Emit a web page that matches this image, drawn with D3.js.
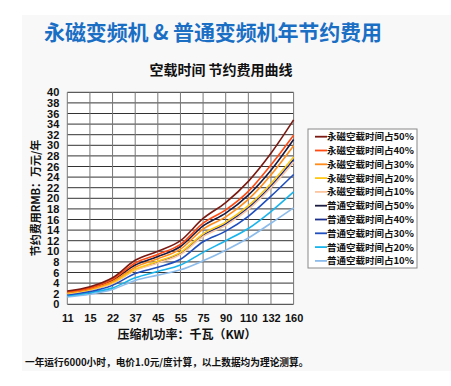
<!DOCTYPE html>
<html><head><meta charset="utf-8">
<script src="https://cdn.jsdelivr.net/npm/d3@7"></script>
<style>html,body{margin:0;padding:0;background:#fff;}svg{display:block;font-family:"Liberation Sans",Arial,"Noto Sans CJK SC",sans-serif;}</style>
</head><body>
<svg id="c" width="451" height="386"></svg>
<script>
const categories = ["11","15","22","37","45","55","75","90","110","132","160"];
const yTicks = d3.range(0, 41, 2);
const seriesNames = ["永磁空载时间占50%","永磁空载时间占40%","永磁空载时间占30%","永磁空载时间占20%","永磁空载时间占10%",
                     "普通空载时间占50%","普通空载时间占40%","普通空载时间占30%","普通空载时间占20%","普通空载时间占10%"];
const pm50 = [2.5, 3.3, 5.0, 8.3, 10.0, 12.0, 16.2, 19.2, 23.2, 28.5, 34.8];
const pm40 = [2.4, 3.1, 4.7, 7.8, 9.4, 11.3, 15.3, 17.8, 21.3, 26.3, 31.9];
const pm30 = [2.2, 2.9, 4.3, 7.0, 8.6, 10.4, 14.2, 16.5, 19.8, 24.4, 29.9];
const pm20 = [2.1, 2.8, 4.1, 6.6, 8.1, 9.8, 13.3, 15.5, 18.6, 22.8, 27.8];
const pm10 = [2.0, 2.7, 3.9, 6.4, 7.8, 9.4, 12.8, 14.9, 17.9, 22.0, 26.8];
const pt50 = [2.3, 3.0, 4.5, 7.4, 9.0, 10.9, 14.8, 17.2, 20.6, 25.3, 31.1];
const pt40 = [2.0, 2.7, 4.0, 6.5, 7.9, 9.6, 13.0, 15.2, 18.2, 22.3, 27.3];
const pt30 = [1.8, 2.4, 3.6, 5.8, 7.0, 8.5, 11.8, 13.8, 16.6, 20.4, 24.5];
const pt20 = [1.6, 2.2, 3.1, 5.0, 6.2, 7.4, 9.8, 12.0, 14.3, 17.5, 21.2];
const pt10 = [1.4, 1.9, 2.8, 4.5, 5.5, 6.5, 8.2, 10.2, 12.5, 15.3, 18.2];
const seriesValues = [pm50, pm40, pm30, pm20, pm10, pt50, pt40, pt30, pt20, pt10];
const colors = ["#7a1a12","#ff4a12","#ff8c1a","#ffc814","#fcc6a0","#1a1a40","#1c2e8c","#1f4fbf","#19b4ec","#8cbcec"];

const svg = d3.select("#c");
svg.append("rect").attr("x",22).attr("y",15).attr("width",429).attr("height",356).attr("fill","#f8f8f8");

svg.append("text").attr("x",44).attr("y",40).attr("fill","#1a6fc4").attr("font-size",21).attr("font-weight","bold")
  .attr("font-family","'Noto Sans CJK SC',sans-serif").attr("textLength",338).attr("lengthAdjust","spacing")
  .text("永磁变频机 & 普通变频机年节约费用");
svg.append("text").attr("x",221).attr("y",75).attr("text-anchor","middle").attr("font-size",14).attr("font-weight","bold")
  .attr("font-family","'Noto Sans CJK SC',sans-serif").attr("fill","#111").text("空载时间  节约费用曲线");

const L = 67.3, R = 293.6, T = 92.3, B = 304.3;
const x = d3.scalePoint().domain(categories).range([L, R]);
const y = d3.scaleLinear().domain([0, 40]).range([B, T]);

svg.append("rect").attr("x",L).attr("y",T).attr("width",R-L).attr("height",B-T).attr("fill","#fff");
const g = svg.append("g");
g.selectAll("line.h").data(yTicks).join("line").attr("x1",L).attr("x2",R).attr("y1",d=>y(d)).attr("y2",d=>y(d))
  .attr("stroke","#333").attr("stroke-width",1);
g.selectAll("line.v").data(categories).join("line").attr("x1",d=>x(d)).attr("x2",d=>x(d)).attr("y1",T).attr("y2",B)
  .attr("stroke","#777").attr("stroke-width",1);

const yAxis = svg.append("g").attr("transform",`translate(${L},0)`)
  .call(d3.axisLeft(y).tickValues(yTicks).tickSize(0).tickPadding(8));
yAxis.select(".domain").remove();
yAxis.selectAll("text").attr("font-size",11).attr("font-weight","bold").attr("fill","#111");

const xAxis = svg.append("g").attr("transform",`translate(0,${B})`)
  .call(d3.axisBottom(x).tickSize(0).tickPadding(10));
xAxis.select(".domain").remove();
xAxis.selectAll("text").attr("font-size",11).attr("font-weight","bold").attr("fill","#111");

const line = d3.line().x((d,i)=>x(categories[i])).y(d=>y(d)).curve(d3.curveMonotoneX);
const order = [9,8,7,6,4,3,5,2,1,0];
svg.append("g").selectAll("path").data(order).join("path")
  .attr("d",k=>line(seriesValues[k])).attr("fill","none").attr("stroke",k=>colors[k]).attr("stroke-width",1.6);

svg.append("text").attr("transform","translate(40,198) rotate(-90)").attr("text-anchor","middle")
  .attr("font-size",11).attr("font-weight","bold").attr("fill","#111")
  .attr("font-family","'Noto Sans CJK SC',sans-serif").text("节约费用RMB：万元/年");
svg.append("text").attr("x",187).attr("y",339).attr("text-anchor","middle").attr("font-size",12).attr("font-weight","bold")
  .attr("fill","#111").attr("font-family","'Noto Sans CJK SC',sans-serif").text("压缩机功率：千瓦（KW）");
svg.append("text").attr("x",25).attr("y",366).attr("font-size",9.7).attr("font-weight","bold")
  .attr("fill","#111").attr("font-family","'Noto Sans CJK SC',sans-serif").text("一年运行6000小时，电价1.0元/度计算，以上数据均为理论测算。");

// legend
const lg = svg.append("g");
lg.append("rect").attr("x",308).attr("y",129).attr("width",109).attr("height",139).attr("fill","#fff").attr("stroke","#888").attr("stroke-width",1);
const rows = lg.selectAll("g.r").data(seriesNames).join("g").attr("transform",(d,i)=>`translate(0,${136.7+i*13.8})`);
rows.append("line").attr("x1",315).attr("x2",327).attr("y1",0).attr("y2",0).attr("stroke",(d,i)=>colors[i]).attr("stroke-width",1.8);
rows.append("text").attr("x",327).attr("y",3.5).attr("font-size",9.5).attr("font-weight","bold").attr("fill","#111")
  .attr("font-family","'Noto Sans CJK SC',sans-serif").text(d=>d);
</script>
</body></html>
